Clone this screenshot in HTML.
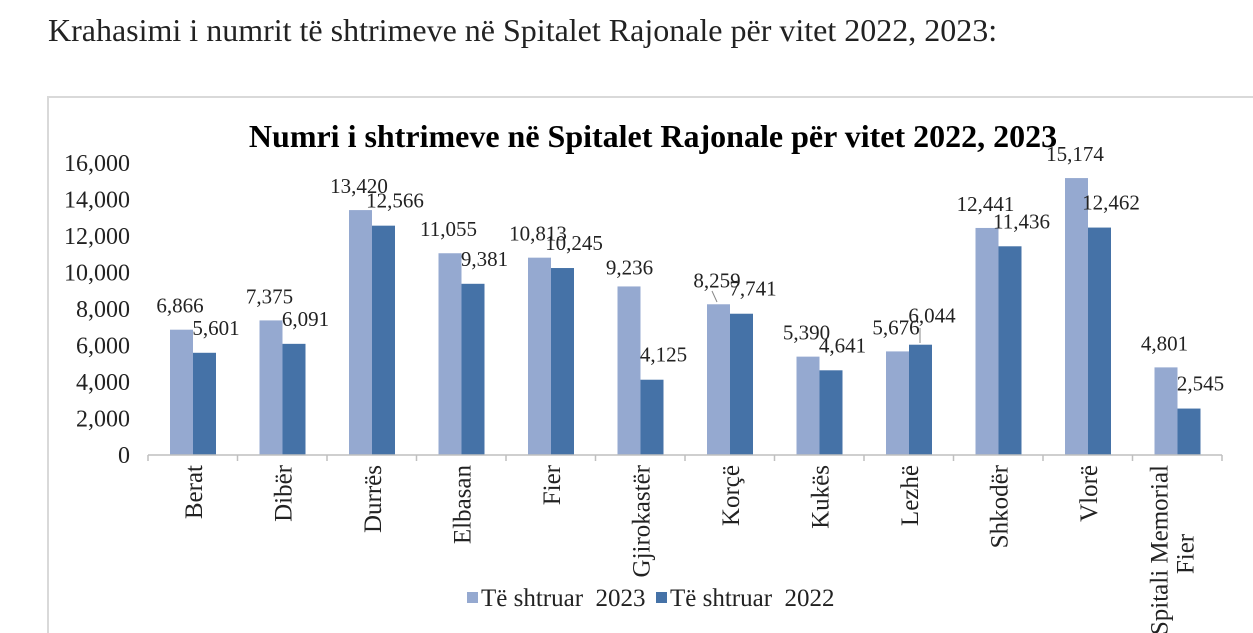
<!DOCTYPE html>
<html><head><meta charset="utf-8"><style>
body{margin:0;background:#fff;width:1253px;height:633px;overflow:hidden}
svg{display:block;font-family:"Liberation Serif",serif}
</style></head><body>
<svg width="1253" height="633" xmlns="http://www.w3.org/2000/svg">
<text x="48" y="41" font-size="32" fill="#222">Krahasimi i numrit të shtrimeve në Spitalet Rajonale për vitet 2022, 2023:</text>
<rect x="48" y="97" width="1215" height="545" fill="none" stroke="#d9d9d9" stroke-width="2"/>
<text x="653" y="147" font-size="32" font-weight="bold" text-anchor="middle" fill="#000">Numri i shtrimeve në Spitalet Rajonale për vitet 2022, 2023</text>
<g id="g"></g>
</svg>
<script>
const ns="http://www.w3.org/2000/svg",g=document.getElementById('g');
function el(t,a,txt){const e=document.createElementNS(ns,t);for(const k in a)e.setAttribute(k,a[k]);if(txt!=null)e.textContent=txt;g.appendChild(e);return e;}
const y0=455,s=292/16000;
for(let v=0;v<=16000;v+=2000){el('text',{x:130,y:y0-v*s+8,'font-size':24,'text-anchor':'end',fill:'#222'},v.toLocaleString('en-US'));}
const cats=["Berat","Dibër","Durrës","Elbasan","Fier","Gjirokastër","Korçë","Kukës","Lezhë","Shkodër","Vlorë","Spitali Memorial|Fier"];
const a=[6866,7375,13420,11055,10813,9236,8259,5390,5676,12441,15174,4801];
const b=[5601,6091,12566,9381,10245,4125,7741,4641,6044,11436,12462,2545];
const w=1074/12,x0=148;
for(let i=0;i<12;i++){
 const cx=x0+i*w;
 const ha=a[i]*s,hb=b[i]*s;
 el('rect',{x:cx+22,y:y0-ha,width:23,height:ha,fill:'#95a9d0'});
 el('rect',{x:cx+45,y:y0-hb,width:23,height:hb,fill:'#4572a7'});
 let lx=cx+32,ly=y0-ha-17;
 let dx=cx+68,dy=y0-hb-18;
 if(i==5){lx=cx+34;ly=y0-ha-12}
 if(i==8){dy=y0-hb-22}
 el('text',{x:lx,y:ly,'font-size':21,'text-anchor':'middle',fill:'#222'},a[i].toLocaleString('en-US'));
 el('text',{x:dx,y:dy,'font-size':21,'text-anchor':'middle',fill:'#222'},b[i].toLocaleString('en-US'));
 el('line',{x1:cx+w,y1:y0,x2:cx+w,y2:y0+6,stroke:'#bfbfbf','stroke-width':1.5});
 const parts=cats[i].split('|');
 if(parts.length==1){el('text',{transform:`translate(${cx+w/2+9},465) rotate(-90)`,'font-size':25,'text-anchor':'end',fill:'#222'},parts[0]);}
 else{el('text',{transform:`translate(${cx+w/2-10},465) rotate(-90)`,'font-size':25,'text-anchor':'end',fill:'#222'},parts[0]);
 el('text',{transform:`translate(${cx+w/2+16},554) rotate(-90)`,'font-size':25,'text-anchor':'middle',fill:'#222'},parts[1]);}
}
el('line',{x1:712,y1:291,x2:717,y2:302,stroke:'#888','stroke-width':1});
el('line',{x1:920,y1:328,x2:920,y2:343,stroke:'#888','stroke-width':1});
el('line',{x1:148,y1:y0,x2:1222,y2:y0,stroke:'#bfbfbf','stroke-width':1.5});
el('line',{x1:148,y1:y0,x2:148,y2:y0+6,stroke:'#bfbfbf','stroke-width':1.5});
el('rect',{x:467,y:592,width:11,height:11,fill:'#95a9d0'});
el('text',{x:481,y:606,'font-size':25,fill:'#222'},'Të shtruar\u00a0 2023');
el('rect',{x:656,y:592,width:11,height:11,fill:'#4572a7'});
el('text',{x:670,y:606,'font-size':25,fill:'#222'},'Të shtruar\u00a0 2022');
</script>
</body></html>
